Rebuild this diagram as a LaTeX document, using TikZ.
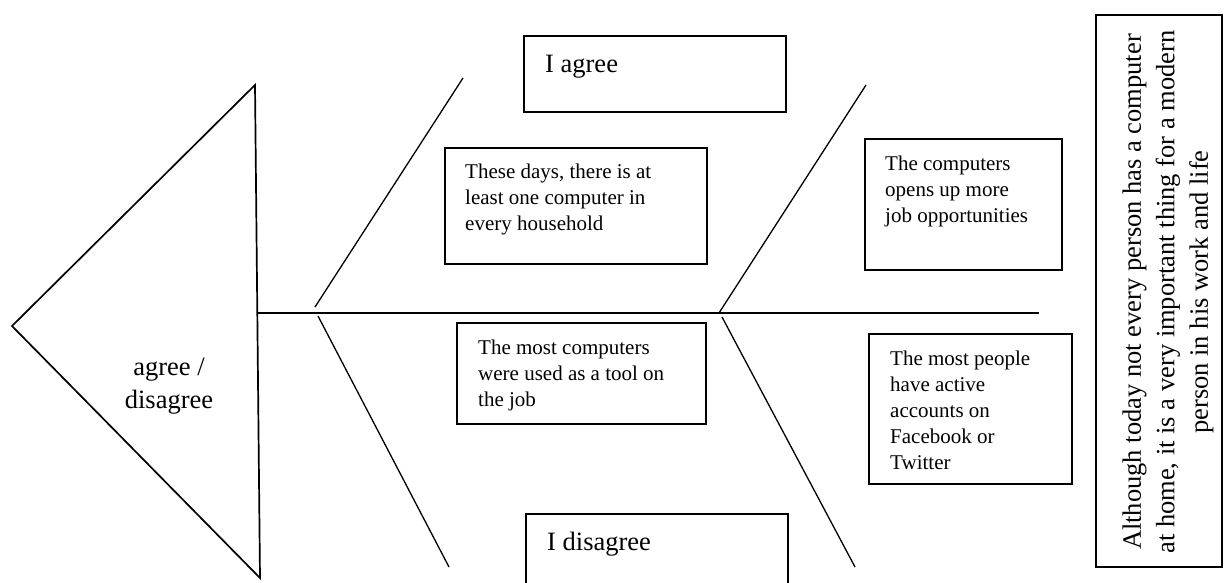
\documentclass[tikz,border=0pt]{standalone}
\usepackage{fontspec}
\setmainfont{Liberation Serif}
\tikzset{
  box/.style={draw, line width=1.8pt, inner sep=0pt},
  bone/.style={line width=1.3pt},
  spine/.style={line width=1.8pt},
  big/.style={font=\fontsize{26.5}{33.5}\selectfont, inner sep=0pt},
  small/.style={font=\fontsize{21}{26}\selectfont, align=left, inner sep=0pt, anchor=north west},
}
\begin{document}
\begin{tikzpicture}[x=1pt,y=-1pt]
\clip (0,0) rectangle (1225,583);
\fill[white] (0,0) rectangle (1225,583);

% head triangle
\coordinate (apex) at (12,326);
\coordinate (ttop) at (255,85);
\coordinate (tbot) at (260,578);
\draw[line width=1.7pt, line join=miter] (apex) -- (ttop) -- (tbot) -- cycle;
\node[big, align=center, anchor=north] (ad) at (169,351.6) {\strut agree /\\disagree};

% spine
\coordinate (head) at (258,313);
\coordinate (tail) at (1039,313);
\draw[spine] (head) -- (tail);

% bones
\coordinate (j1u) at (315,307);
\coordinate (b1u) at (463,78);
\coordinate (j1d) at (318,316);
\coordinate (b1d) at (449,567);
\coordinate (j2u) at (719,313);
\coordinate (b2u) at (866,85);
\coordinate (j2d) at (722,317);
\coordinate (b2d) at (855,567);
\draw[bone] (j1u) -- (b1u);
\draw[bone] (j1d) -- (b1d);
\draw[bone] (j2u) -- (b2u);
\draw[bone] (j2d) -- (b2d);

% boxes
\node[box, minimum width=262pt, minimum height=76pt] (agreebox) at (655,74) {};
\node[big, anchor=base west] (agree) at (545,73) {I agree};

\node[box, minimum width=262pt, minimum height=116pt] (daysbox) at (576,206) {};
\node[small] (days) at (465,160.3) {\strut These days, there is at\\least one computer in\\every household};

\node[box, minimum width=249pt, minimum height=101pt] (toolbox) at (581.5,373.5) {};
\node[small] (tool) at (478,335.8) {\strut The most computers\\were used as a tool on\\the job};

\node[box, minimum width=262pt, minimum height=80pt] (disagreebox) at (657,554) {};
\node[big, anchor=base west] (disagree) at (547,550) {I disagree};

\node[box, minimum width=197pt, minimum height=131pt] (jobsbox) at (963.5,204.5) {};
\node[small] (jobs) at (885,151.8) {\strut The computers\\opens up more\\job opportunities};

\node[box, minimum width=203pt, minimum height=150pt] (peoplebox) at (970.5,409) {};
\node[small] (people) at (890,346.8) {\strut The most people\\have active\\accounts on\\Facebook or\\Twitter};

\node[box, line width=1.5pt, minimum width=126pt, minimum height=552pt] (thesisbox) at (1159,291) {};
\node[big, rotate=90, align=center] (thesis) at (1168,292) {Although today not every person has a computer\\at home, it is a very important thing for a modern\\person in his work and life};
\end{tikzpicture}
\end{document}
